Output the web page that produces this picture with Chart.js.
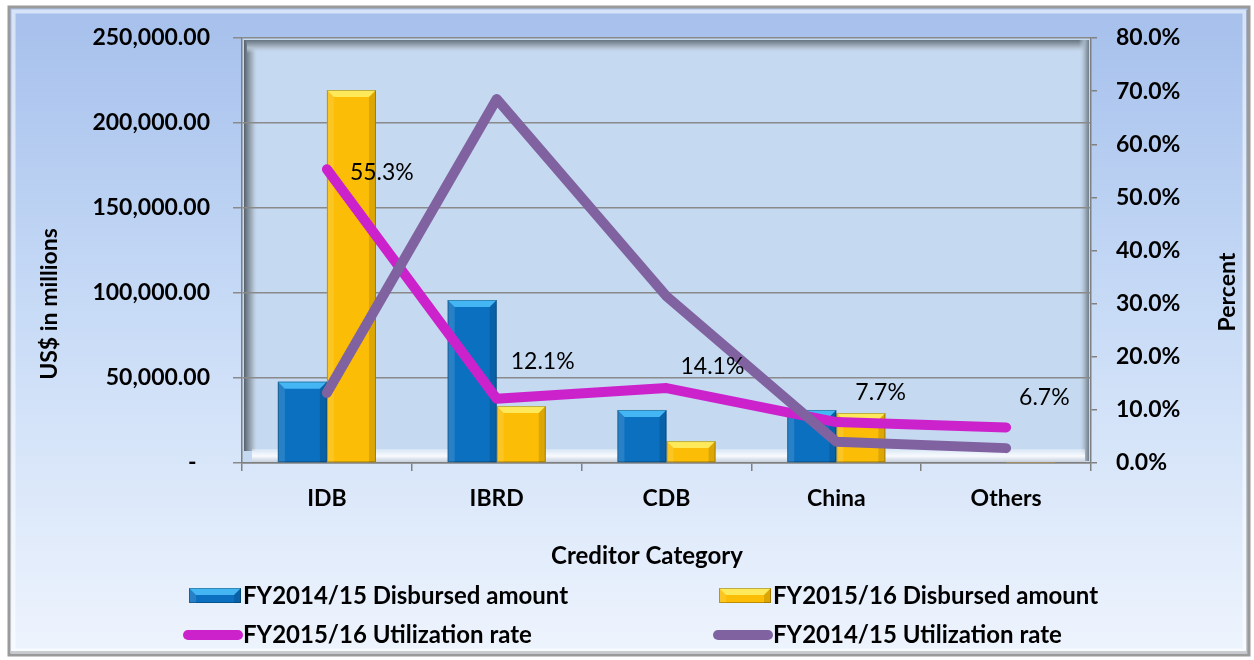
<!DOCTYPE html>
<html><head><meta charset="utf-8">
<script src="https://cdn.jsdelivr.net/npm/chart.js@4.4.1/dist/chart.umd.min.js"></script>
<style>html,body{margin:0;padding:0;background:#fff;}#wrap{width:1254px;height:660px;position:relative;}</style>
</head><body><div id="wrap"><canvas id="c" width="1254" height="660"></canvas></div>
<script>
const categories = ['IDB', 'IBRD', 'CDB', 'China', 'Others'];
const disbursed1415 = [47800, 95900, 31200, 31200, 400];
const disbursed1516 = [219400, 33500, 12900, 29400, 300];
const util1516 = [55.3, 12.1, 14.1, 7.7, 6.7];
const util1415 = [13.2, 68.5, 31.4, 4.0, 2.8];
const amountTicks = [0, 50000, 100000, 150000, 200000, 250000];
const percentTicks = [0, 10, 20, 30, 40, 50, 60, 70, 80];
const seriesNames = ['FY2014/15 Disbursed amount', 'FY2015/16 Disbursed amount', 'FY2015/16 Utilization rate', 'FY2014/15 Utilization rate'];
const xTitle = 'Creditor Category';
const yTitle = 'US$ in millions';
const y1Title = 'Percent';

const FONT = 'Lato';
const BLUE = '#0b70bf', BLUE_TOP = '#43b6f3';
const GOLD = '#fbbd05', GOLD_TOP = '#fde95a';
const MAGENTA = '#cc22cc', PURPLE = '#8062a0';

function fmtAmount(v) {
  if (v === 0) return '-\u2007';
  return v.toLocaleString('en-US', {minimumFractionDigits: 2, maximumFractionDigits: 2});
}

const bgPlugin = {
  id: 'bg',
  beforeDraw(chart) {
    const ctx = chart.ctx, ca = chart.chartArea;
    ctx.save();
    ctx.fillStyle = '#ffffff';
    ctx.fillRect(0, 0, chart.width, chart.height);
    const g = ctx.createLinearGradient(0, 8, 0, 656);
    g.addColorStop(0, '#a6c0ec');
    g.addColorStop(0.45, '#c6daf6');
    g.addColorStop(1, '#eef4fd');
    ctx.fillStyle = g;
    ctx.fillRect(9, 7, 1240, 648);
    ctx.strokeStyle = '#9a9a9a';
    ctx.lineWidth = 3;
    ctx.strokeRect(9, 7, 1240, 648);
    ctx.strokeStyle = 'rgba(255,255,255,0.55)';
    ctx.lineWidth = 4;
    ctx.strokeRect(13.5, 11.5, 1231, 639);
    ctx.strokeStyle = 'rgba(120,120,120,0.35)';
    ctx.lineWidth = 2;
    ctx.beginPath();
    ctx.moveTo(11, 652); ctx.lineTo(1247, 652); ctx.lineTo(1247, 10);
    ctx.stroke();
    // plot wall
    ctx.fillStyle = '#c5d9f1';
    ctx.fillRect(ca.left, ca.top, ca.right - ca.left, ca.bottom - ca.top);
    const L = ca.left + 2, T = ca.top + 2, R = ca.right - 2, B = ca.bottom - 12;
    let lg = ctx.createLinearGradient(L, 0, L + 14, 0);
    lg.addColorStop(0, '#56606c'); lg.addColorStop(0.25, '#7a8896'); lg.addColorStop(0.6, '#a9b7c6'); lg.addColorStop(1, 'rgba(197,217,241,0)');
    ctx.fillStyle = lg; ctx.fillRect(L, T, 14, B - T);
    let tg = ctx.createLinearGradient(0, T, 0, T + 13);
    tg.addColorStop(0, '#66737f'); tg.addColorStop(0.25, '#8593a1'); tg.addColorStop(0.6, '#b2c0cf'); tg.addColorStop(1, 'rgba(197,217,241,0)');
    ctx.fillStyle = tg; ctx.fillRect(L + 3, T, R - L - 3, 13);
    let rg = ctx.createLinearGradient(R - 10, 0, R, 0);
    rg.addColorStop(0, 'rgba(197,217,241,0)'); rg.addColorStop(0.6, '#a3b1c0'); rg.addColorStop(1, '#6e7e8e');
    ctx.fillStyle = rg; ctx.fillRect(R - 10, T, 10, B - T + 10);
    const fg = ctx.createLinearGradient(0, ca.bottom - 14, 0, ca.bottom);
    fg.addColorStop(0, 'rgba(255,255,255,0.3)');
    fg.addColorStop(0.5, 'rgba(250,252,255,0.95)');
    fg.addColorStop(1, 'rgba(190,200,215,0.95)');
    ctx.fillStyle = fg;
    ctx.fillRect(L + 8, ca.bottom - 14, R - L - 12, 14);
    ctx.restore();
  }
};

function bevelBar(ctx, l, r, top, base, main, light) {
  const h = base - top;
  if (h < 2) return;
  const b = Math.min(7, h / 2);
  ctx.fillStyle = light;
  ctx.beginPath();
  ctx.moveTo(l, top); ctx.lineTo(r, top); ctx.lineTo(r - b, top + b); ctx.lineTo(l + b, top + b);
  ctx.closePath(); ctx.fill();
  ctx.fillStyle = 'rgba(0,0,0,0.12)';
  ctx.beginPath();
  ctx.moveTo(r, top); ctx.lineTo(r, base); ctx.lineTo(r - b, base); ctx.lineTo(r - b, top + b);
  ctx.closePath(); ctx.fill();
  ctx.fillStyle = 'rgba(255,255,255,0.12)';
  ctx.beginPath();
  ctx.moveTo(l, top); ctx.lineTo(l + b, top + b); ctx.lineTo(l + b, base); ctx.lineTo(l, base);
  ctx.closePath(); ctx.fill();
  ctx.strokeStyle = 'rgba(0,0,0,0.25)';
  ctx.lineWidth = 1;
  ctx.strokeRect(l + 0.5, top + 0.5, r - l - 1, h - 1);
}

const bevelPlugin = {
  id: 'bevel',
  afterDatasetDraw(chart, args) {
    const ds = chart.data.datasets[args.index];
    if (ds.type !== 'bar') return;
    const ctx = chart.ctx;
    ctx.save();
    args.meta.data.forEach(el => {
      const l = el.x - el.width / 2, r = el.x + el.width / 2;
      bevelBar(ctx, l, r, el.y, el.base, ds.backgroundColor, ds.topColor);
    });
    ctx.restore();
  }
};

const labelOffsets = [[23, 3], [14, -37], [14, -22], [19, -30], [13, -30]];
const dataLabelPlugin = {
  id: 'dlabels',
  afterDatasetsDraw(chart) {
    const ctx = chart.ctx;
    const meta = chart.getDatasetMeta(2);
    ctx.save();
    ctx.font = '23px ' + FONT;
    ctx.fillStyle = '#000';
    ctx.textAlign = 'left';
    ctx.textBaseline = 'middle';
    meta.data.forEach((el, i) => {
      const o = labelOffsets[i];
      ctx.fillText(util1516[i].toFixed(1) + '%', el.x + o[0], el.y + o[1]);
    });
    ctx.restore();
  }
};

const decorPlugin = {
  id: 'decor',
  afterDraw(chart) {
    const ctx = chart.ctx;
    ctx.save();
    ctx.fillStyle = '#000';
    ctx.font = 'bold 24px ' + FONT;
    ctx.textAlign = 'center';
    ctx.textBaseline = 'middle';
    ctx.fillText(xTitle, 647, 556);
    ctx.font = 'bold 23px ' + FONT;
    ctx.save();
    ctx.translate(50, 304); ctx.rotate(-Math.PI / 2);
    ctx.fillText(yTitle, 0, 0);
    ctx.restore();
    ctx.save();
    ctx.translate(1228, 292); ctx.rotate(-Math.PI / 2);
    ctx.fillText(y1Title, 0, 0);
    ctx.restore();
    const items = [
      {name: seriesNames[0], kind: 'bar', c: BLUE, t: BLUE_TOP, x: 243, y: 596},
      {name: seriesNames[1], kind: 'bar', c: GOLD, t: GOLD_TOP, x: 773, y: 596},
      {name: seriesNames[2], kind: 'line', c: MAGENTA, x: 243, y: 635},
      {name: seriesNames[3], kind: 'line', c: PURPLE, x: 773, y: 635}
    ];
    ctx.font = 'bold 24px ' + FONT;
    ctx.textAlign = 'left';
    items.forEach(it => {
      if (it.kind === 'bar') {
        const l = it.x - 54, r = it.x - 2, top = it.y - 8, base = it.y + 7;
        ctx.fillStyle = it.c;
        ctx.fillRect(l, top, r - l, base - top);
        bevelBar(ctx, l, r, top, base, it.c, it.t);
      } else {
        ctx.strokeStyle = it.c;
        ctx.lineWidth = 10;
        ctx.lineCap = 'round';
        ctx.beginPath();
        ctx.moveTo(it.x - 55, it.y); ctx.lineTo(it.x - 5, it.y);
        ctx.stroke();
      }
      ctx.fillStyle = '#000';
      ctx.fillText(it.name, it.x, it.y);
    });
    ctx.restore();
  }
};

const tickFont = {family: FONT, size: 23, weight: 'bold'};
const axisGray = '#808080';

new Chart(document.getElementById('c'), {
  data: {
    labels: categories,
    datasets: [
      {type: 'bar', label: seriesNames[0], data: disbursed1415, backgroundColor: BLUE, topColor: BLUE_TOP, yAxisID: 'y', order: 3, categoryPercentage: 0.578, barPercentage: 1.0},
      {type: 'bar', label: seriesNames[1], data: disbursed1516, backgroundColor: GOLD, topColor: GOLD_TOP, yAxisID: 'y', order: 3, categoryPercentage: 0.578, barPercentage: 1.0},
      {type: 'line', label: seriesNames[2], data: util1516, borderColor: MAGENTA, backgroundColor: MAGENTA, borderWidth: 10, borderCapStyle: 'round', borderJoinStyle: 'round', pointRadius: 0, tension: 0, yAxisID: 'y1', order: 2},
      {type: 'line', label: seriesNames[3], data: util1415, borderColor: PURPLE, backgroundColor: PURPLE, borderWidth: 10, borderCapStyle: 'round', borderJoinStyle: 'round', pointRadius: 0, tension: 0, yAxisID: 'y1', order: 1}
    ]
  },
  options: {
    responsive: false,
    animation: false,
    layout: {padding: {top: 38, left: 0, right: 0, bottom: 0}},
    plugins: {legend: {display: false}, tooltip: {enabled: false}, title: {display: false}},
    scales: {
      x: {
        offset: true,
        grid: {display: true, offset: true, drawOnChartArea: false, drawTicks: true, tickLength: 8, color: axisGray, lineWidth: 1.5},
        border: {display: true, color: axisGray, width: 1.5},
        ticks: {font: tickFont, color: '#000', padding: 14, maxRotation: 0},
        afterFit(s) { s.height = 197; }
      },
      y: {
        position: 'left', min: 0, max: 250000,
        afterBuildTicks(s) { s.ticks = amountTicks.map(v => ({value: v})); },
        ticks: {font: tickFont, color: '#000', padding: 23, callback: v => fmtAmount(v)},
        grid: {color: '#8a8a8a', lineWidth: 1.5, tickLength: 9},
        border: {display: true, color: axisGray, width: 1.5},
        afterFit(s) { s.width = 242; }
      },
      y1: {
        position: 'right', min: 0, max: 80,
        afterBuildTicks(s) { s.ticks = percentTicks.map(v => ({value: v})); },
        ticks: {font: tickFont, color: '#000', padding: 19, callback: v => v.toFixed(1) + '%'},
        grid: {drawOnChartArea: false, tickLength: 6, color: axisGray, lineWidth: 1.5},
        border: {display: true, color: axisGray, width: 1.5},
        afterFit(s) { s.width = 163; }
      }
    }
  },
  plugins: [bgPlugin, bevelPlugin, dataLabelPlugin, decorPlugin]
});
</script></body></html>
